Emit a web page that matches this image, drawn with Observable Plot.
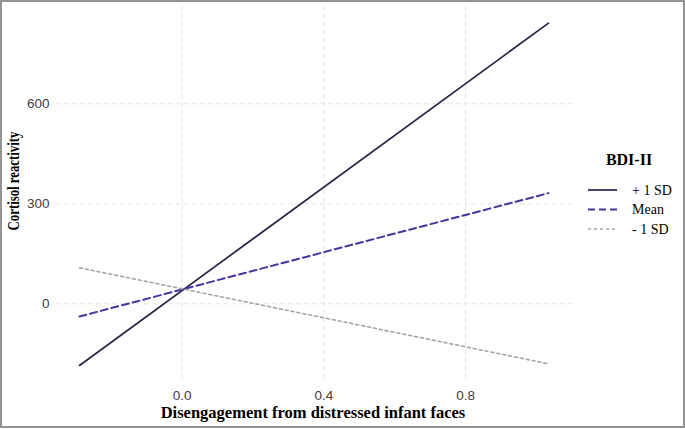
<!DOCTYPE html>
<html>
<head>
<meta charset="utf-8">
<script src="https://cdn.jsdelivr.net/npm/d3@7"></script>
<script src="https://cdn.jsdelivr.net/npm/@observablehq/plot@0.6"></script>
<style>
  html, body { margin: 0; padding: 0; background: #fff; }
  #wrap { position: relative; width: 685px; height: 429px; overflow: hidden; }
  #wrap > svg { position: absolute; left: 0; top: 0; }
  #wrap g[aria-label$="tick label"] text { font-size: 13.5px; }
  #frame { position: absolute; left: 0; top: 0; width: 685px; height: 428px;
           box-sizing: border-box; border: 2px solid #939393; pointer-events: none; }
</style>
</head>
<body>
<div id="wrap"><div id="frame"></div></div>
<script>
// Simple-slopes of cortisol reactivity on disengagement, at three BDI-II levels
const disengagement = [-0.29, 1.034];
const seriesNames = ["+ 1 SD", "Mean", "- 1 SD"];
const plusOneSD = [-185, 842];
const meanLevel = [-38, 332];
const minusOneSD = [108, -180];
const seriesColors = ["#2b2348", "#43369f", "#a5a5a5"];
const seriesDashes = [null, "7,4", "3,3"];
const seriesWidths = [1.7, 2, 1.6];
const xTicks = [0, 0.4, 0.8];
const yTicks = [0, 300, 600];

const valuesBySeries = [plusOneSD, meanLevel, minusOneSD];
const rows = seriesNames.flatMap((s, i) =>
  disengagement.map((x, j) => ({series: s, x, y: valuesBySeries[i][j]})));

const W = 685, H = 429;
const xDomain = [-0.356, 1.099];
const yDomain = [-236.4, 893.4];

const lineMarks = seriesNames.map((s, i) =>
  Plot.line(rows.filter(d => d.series === s), {
    x: "x", y: "y",
    stroke: seriesColors[i],
    strokeWidth: seriesWidths[i],
    strokeDasharray: seriesDashes[i] || undefined
  }));

const chart = Plot.plot({
  width: W, height: H,
  marginLeft: 55.6, marginRight: 114, marginTop: 5.5, marginBottom: 46.9,
  style: {fontFamily: "'Liberation Sans', Arial, sans-serif", fontSize: "13px", color: "#404040", background: "transparent"},
  x: {domain: xDomain, ticks: xTicks, tickFormat: d3.format(".1f")},
  y: {domain: yDomain, ticks: yTicks},
  marks: [
    Plot.gridX(xTicks, {stroke: "#e4e4e4", strokeOpacity: 1, strokeWidth: 1, strokeDasharray: "5,3"}),
    Plot.gridY(yTicks, {stroke: "#e4e4e4", strokeOpacity: 1, strokeWidth: 1, strokeDasharray: "5,3"}),
    Plot.axisX(xTicks, {tickSize: 0, tickPadding: 8, label: null, tickFormat: d3.format(".1f")}),
    Plot.axisY(yTicks, {tickSize: 0, tickPadding: 6.6, label: null}),
    ...lineMarks
  ]
});

const wrap = document.getElementById("wrap");
wrap.insertBefore(chart, document.getElementById("frame"));

// Axis titles and the linetype legend
const overlay = d3.select(wrap).insert("svg", "#frame")
  .attr("width", W).attr("height", H)
  .style("pointer-events", "none")
  .style("font-family", "'Liberation Serif', 'Times New Roman', serif");

overlay.append("text")
  .attr("x", 313).attr("y", 417.5)
  .attr("text-anchor", "middle")
  .attr("font-weight", "bold").attr("font-size", 16.5)
  .attr("fill", "#000")
  .text("Disengagement from distressed infant faces");

overlay.append("text")
  .attr("transform", "translate(18.5,181) rotate(-90) scale(0.8,1)")
  .attr("text-anchor", "middle")
  .attr("font-weight", "bold").attr("font-size", 16)
  .attr("fill", "#000")
  .text("Cortisol reactivity");

const legend = overlay.append("g");
legend.append("text")
  .attr("x", 629).attr("y", 165)
  .attr("text-anchor", "middle")
  .attr("font-weight", "bold").attr("font-size", 16)
  .attr("fill", "#000")
  .text("BDI-II");

const rowY = [190, 209.5, 229];
seriesNames.forEach((s, i) => {
  legend.append("line")
    .attr("x1", 588).attr("x2", 617)
    .attr("y1", rowY[i]).attr("y2", rowY[i])
    .attr("stroke", seriesColors[i])
    .attr("stroke-width", seriesWidths[i])
    .attr("stroke-dasharray", seriesDashes[i]);
  legend.append("text")
    .attr("x", 632).attr("y", rowY[i] + 4.8)
    .attr("font-size", 14)
    .attr("fill", "#000")
    .text(s);
});
</script>
</body>
</html>
